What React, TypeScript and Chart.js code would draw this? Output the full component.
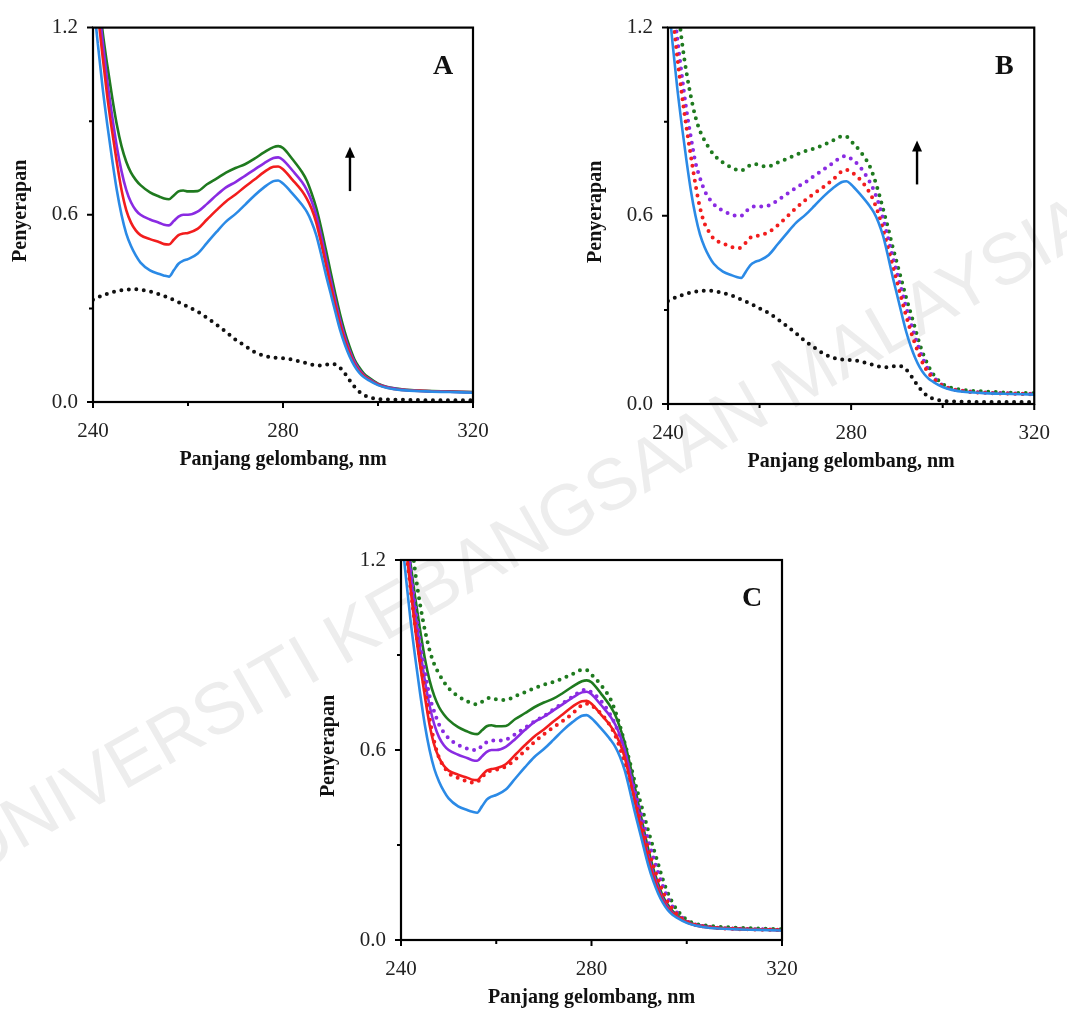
import React, { useEffect, useRef } from 'react';
import { Chart, registerables } from 'chart.js';

Chart.register(...registerables);

// Wavelength grid (nm)
const WL = [240, 241, 242, 243, 244, 245, 246, 247, 248, 249, 250, 252, 254, 255, 256, 257, 258, 259, 260, 262, 264, 266, 268, 270, 272, 274, 276, 278, 279, 280, 282, 284, 285, 286, 287, 288, 289, 290, 291, 292, 293, 294, 295, 296, 297, 298, 300, 302, 305, 310, 315, 320];

// Solid spectra
const BLUE_SOLID = [1.30, 1.15, 1.01, 0.89, 0.78, 0.68, 0.60, 0.54, 0.50, 0.47, 0.447, 0.422, 0.41, 0.405, 0.402, 0.422, 0.443, 0.453, 0.458, 0.475, 0.51, 0.545, 0.578, 0.603, 0.632, 0.662, 0.688, 0.708, 0.71, 0.70, 0.668, 0.632, 0.61, 0.578, 0.535, 0.475, 0.41, 0.35, 0.29, 0.232, 0.185, 0.147, 0.117, 0.095, 0.08, 0.07, 0.054, 0.045, 0.038, 0.034, 0.032, 0.030];
const RED_SOLID = [1.40, 1.25, 1.11, 0.98, 0.87, 0.77, 0.68, 0.615, 0.575, 0.55, 0.535, 0.522, 0.512, 0.506, 0.505, 0.52, 0.535, 0.54, 0.542, 0.555, 0.585, 0.615, 0.643, 0.665, 0.69, 0.713, 0.737, 0.754, 0.755, 0.746, 0.712, 0.676, 0.652, 0.62, 0.575, 0.512, 0.443, 0.375, 0.31, 0.25, 0.198, 0.157, 0.123, 0.10, 0.084, 0.073, 0.056, 0.046, 0.039, 0.035, 0.033, 0.031];
const PURPLE_SOLID = [1.45, 1.30, 1.16, 1.03, 0.92, 0.82, 0.74, 0.68, 0.64, 0.615, 0.60, 0.585, 0.574, 0.568, 0.566, 0.58, 0.594, 0.60, 0.60, 0.61, 0.635, 0.663, 0.688, 0.705, 0.725, 0.745, 0.765, 0.782, 0.784, 0.776, 0.742, 0.705, 0.68, 0.645, 0.598, 0.535, 0.465, 0.395, 0.327, 0.264, 0.21, 0.166, 0.13, 0.105, 0.087, 0.075, 0.057, 0.047, 0.04, 0.035, 0.033, 0.031];
const GREEN_SOLID = [1.48, 1.33, 1.19, 1.08, 0.98, 0.89, 0.82, 0.77, 0.735, 0.712, 0.695, 0.672, 0.658, 0.652, 0.65, 0.662, 0.675, 0.678, 0.675, 0.676, 0.698, 0.716, 0.735, 0.75, 0.762, 0.78, 0.80, 0.817, 0.82, 0.814, 0.778, 0.737, 0.71, 0.67, 0.622, 0.56, 0.49, 0.418, 0.348, 0.282, 0.225, 0.178, 0.138, 0.112, 0.092, 0.079, 0.059, 0.048, 0.041, 0.036, 0.034, 0.032];

// Dotted spectra
const RED_DOT = [1.40, 1.24, 1.11, 0.99, 0.885, 0.79, 0.70, 0.625, 0.575, 0.548, 0.527, 0.512, 0.50, 0.497, 0.499, 0.514, 0.53, 0.535, 0.538, 0.548, 0.57, 0.597, 0.625, 0.65, 0.672, 0.692, 0.715, 0.742, 0.746, 0.74, 0.715, 0.675, 0.645, 0.605, 0.555, 0.50, 0.445, 0.39, 0.335, 0.282, 0.233, 0.19, 0.152, 0.12, 0.097, 0.08, 0.058, 0.047, 0.04, 0.035, 0.033, 0.031];
const PURPLE_DOT = [1.45, 1.31, 1.17, 1.05, 0.94, 0.85, 0.77, 0.72, 0.68, 0.655, 0.637, 0.616, 0.604, 0.60, 0.60, 0.614, 0.625, 0.63, 0.63, 0.633, 0.65, 0.67, 0.69, 0.707, 0.728, 0.748, 0.768, 0.788, 0.79, 0.782, 0.755, 0.71, 0.68, 0.64, 0.59, 0.533, 0.475, 0.42, 0.365, 0.31, 0.26, 0.213, 0.17, 0.134, 0.106, 0.086, 0.06, 0.048, 0.041, 0.036, 0.034, 0.032];
const GREEN_DOT = [1.55, 1.42, 1.29, 1.16, 1.06, 0.98, 0.915, 0.87, 0.84, 0.815, 0.795, 0.77, 0.753, 0.747, 0.744, 0.752, 0.762, 0.765, 0.76, 0.758, 0.77, 0.782, 0.795, 0.806, 0.815, 0.826, 0.84, 0.853, 0.852, 0.838, 0.805, 0.76, 0.722, 0.675, 0.62, 0.565, 0.505, 0.45, 0.395, 0.34, 0.29, 0.24, 0.19, 0.15, 0.118, 0.094, 0.064, 0.051, 0.044, 0.039, 0.036, 0.034];
const BLACK_DOT = [0.328, 0.335, 0.342, 0.347, 0.352, 0.355, 0.358, 0.36, 0.361, 0.361, 0.36, 0.354, 0.345, 0.34, 0.333, 0.327, 0.32, 0.313, 0.305, 0.29, 0.27, 0.248, 0.225, 0.20, 0.18, 0.16, 0.148, 0.142, 0.141, 0.14, 0.136, 0.128, 0.124, 0.12, 0.118, 0.117, 0.119, 0.122, 0.12, 0.11, 0.092, 0.07, 0.05, 0.034, 0.023, 0.016, 0.01, 0.008, 0.007, 0.006, 0.006, 0.006];

// Axis ticks
const X_TICKS = [240, 260, 280, 300, 320];
const X_LABELED = [240, 280, 320];
const Y_TICKS = [0, 0.3, 0.6, 0.9, 1.2];
const Y_LABELED = [0, 0.6, 1.2];

const X_TITLE = 'Panjang gelombang, nm';
const Y_TITLE = 'Penyerapan';
const WATERMARK = 'UNIVERSITI KEBANGSAAN MALAYSIA';

// Arrows: [wavelength, fromAbs, toAbs]
const ARROW_A = [294.1, 0.676, 0.818];
const ARROW_B = [294.4, 0.70, 0.84];

const C_BLUE = '#2b8ae6';
const C_RED = '#f21d1d';
const C_PURPLE = '#8a2be2';
const C_GREEN = '#1f7a1f';
const C_BLACK = '#111111';

const SERIF = "'Times New Roman', 'Liberation Serif', serif";

type SeriesDef = { data: number[]; color: string; dotted: boolean };

const solid = (data: number[], color: string): SeriesDef => ({ data, color, dotted: false });
const dotted = (data: number[], color: string): SeriesDef => ({ data, color, dotted: true });

type PanelDef = {
  letter: string;
  left: number;
  top: number;
  width: number;
  height: number;
  pad: { left: number; top: number; right: number };
  yW: number;
  xH: number;
  series: SeriesDef[];
  arrow?: number[];
};

const PANELS: PanelDef[] = [
  {
    letter: 'A', left: 0, top: 0, width: 533, height: 490,
    pad: { left: 0, top: 22, right: 60 }, yW: 93, xH: 88,
    series: [solid(BLUE_SOLID, C_BLUE), solid(RED_SOLID, C_RED), solid(PURPLE_SOLID, C_PURPLE), solid(GREEN_SOLID, C_GREEN), dotted(BLACK_DOT, C_BLACK)],
    arrow: ARROW_A,
  },
  {
    letter: 'B', left: 533, top: 0, width: 534, height: 490,
    pad: { left: 42, top: 24, right: 18 }, yW: 93, xH: 86,
    series: [solid(BLUE_SOLID, C_BLUE), dotted(RED_DOT, C_RED), dotted(PURPLE_DOT, C_PURPLE), dotted(GREEN_DOT, C_GREEN), dotted(BLACK_DOT, C_BLACK)],
    arrow: ARROW_B,
  },
  {
    letter: 'C', left: 300, top: 530, width: 560, height: 479,
    pad: { left: 8, top: 30, right: 78 }, yW: 93, xH: 69,
    series: [solid(BLUE_SOLID, C_BLUE), dotted(RED_DOT, C_RED), solid(RED_SOLID, C_RED), dotted(PURPLE_DOT, C_PURPLE), solid(PURPLE_SOLID, C_PURPLE), dotted(GREEN_DOT, C_GREEN), solid(GREEN_SOLID, C_GREEN)],
  },
];

const near = (v: number, list: number[]) => list.some((t) => Math.abs(t - v) < 1e-6);

const decorPlugin = {
  id: 'decor',
  afterDraw(chart: any, _args: any, opts: any) {
    const { ctx, chartArea } = chart;
    const { left, right, top, bottom } = chartArea;
    const xs = chart.scales.x;
    const ys = chart.scales.y;
    ctx.save();
    ctx.strokeStyle = '#000';
    ctx.lineWidth = 2.2;
    ctx.strokeRect(left, top, right - left, bottom - top);
    // ticks
    ctx.lineWidth = 2;
    ctx.beginPath();
    X_TICKS.forEach((v) => {
      const px = xs.getPixelForValue(v);
      const len = near(v, X_LABELED) ? 6 : 4;
      ctx.moveTo(px, bottom);
      ctx.lineTo(px, bottom + len);
    });
    Y_TICKS.forEach((v) => {
      const py = ys.getPixelForValue(v);
      const len = near(v, Y_LABELED) ? 6 : 4;
      ctx.moveTo(left, py);
      ctx.lineTo(left - len, py);
    });
    ctx.stroke();
    // titles
    ctx.fillStyle = '#111';
    ctx.font = `bold 20px ${SERIF}`;
    ctx.textAlign = 'center';
    ctx.textBaseline = 'middle';
    ctx.fillText(X_TITLE, (left + right) / 2, bottom + 58);
    ctx.save();
    ctx.translate(left - 72, (top + bottom) / 2 - 4);
    ctx.rotate(-Math.PI / 2);
    ctx.fillText(Y_TITLE, 0, 0);
    ctx.restore();
    // letter
    ctx.font = `bold 28px ${SERIF}`;
    ctx.textBaseline = 'alphabetic';
    ctx.fillText(opts.letter, right - 30, top + 46);
    // arrow
    if (opts.arrow) {
      const [wx, y0, y1] = opts.arrow;
      const ax = xs.getPixelForValue(wx);
      const pb = ys.getPixelForValue(y0);
      const pt = ys.getPixelForValue(y1);
      ctx.strokeStyle = '#000';
      ctx.lineWidth = 2.4;
      ctx.beginPath();
      ctx.moveTo(ax, pb);
      ctx.lineTo(ax, pt + 8);
      ctx.stroke();
      ctx.fillStyle = '#000';
      ctx.beginPath();
      ctx.moveTo(ax, pt);
      ctx.lineTo(ax - 5, pt + 11);
      ctx.lineTo(ax + 5, pt + 11);
      ctx.closePath();
      ctx.fill();
    }
    ctx.restore();
  },
};

function PanelChart({ def }: { def: PanelDef }) {
  const ref = useRef<HTMLCanvasElement | null>(null);
  useEffect(() => {
    const canvas = ref.current;
    if (!canvas) return;
    const datasets = def.series.map((s) => ({
      data: WL.map((x, i) => ({ x, y: s.data[i] })),
      borderColor: s.color,
      backgroundColor: s.color,
      borderWidth: s.dotted ? 4 : 2.6,
      borderDash: s.dotted ? [0, 7.5] : [],
      borderCapStyle: s.dotted ? 'round' : 'butt',
      borderJoinStyle: 'round',
      pointRadius: 0,
      cubicInterpolationMode: 'monotone',
      fill: false,
    }));
    const chart = new Chart(canvas, {
      type: 'line',
      data: { datasets } as any,
      options: {
        responsive: false,
        animation: false,
        events: [],
        layout: { padding: { left: def.pad.left, top: def.pad.top, right: def.pad.right, bottom: 0 } },
        plugins: {
          legend: { display: false },
          tooltip: { enabled: false },
          decor: { letter: def.letter, arrow: def.arrow },
        } as any,
        scales: {
          x: {
            type: 'linear',
            min: 240,
            max: 320,
            grid: { display: false, drawTicks: false },
            border: { display: false },
            ticks: {
              stepSize: 20,
              autoSkip: false,
              maxRotation: 0,
              padding: 17,
              color: '#222',
              font: { family: SERIF, size: 21 },
              callback: (v: any) => (near(Number(v), X_LABELED) ? String(v) : ''),
            },
            afterFit: (scale: any) => { scale.height = def.xH; },
          },
          y: {
            type: 'linear',
            min: 0,
            max: 1.2,
            grid: { display: false, drawTicks: false },
            border: { display: false },
            ticks: {
              stepSize: 0.3,
              autoSkip: false,
              padding: 15,
              color: '#222',
              font: { family: SERIF, size: 21 },
              callback: (v: any) => (near(Number(v), Y_LABELED) ? Number(v).toFixed(1) : ''),
            },
            afterFit: (scale: any) => { scale.width = def.yW; },
          },
        },
      } as any,
      plugins: [decorPlugin],
    });
    return () => chart.destroy();
  }, [def]);
  return (
    <canvas
      ref={ref}
      width={def.width}
      height={def.height}
      style={{ position: 'absolute', left: def.left, top: def.top, width: def.width, height: def.height }}
    />
  );
}

function Watermark() {
  const ref = useRef<HTMLCanvasElement | null>(null);
  useEffect(() => {
    const c = ref.current;
    if (!c) return;
    const ctx = c.getContext('2d');
    if (!ctx) return;
    ctx.clearRect(0, 0, c.width, c.height);
    ctx.save();
    ctx.translate(-36, 859);
    ctx.rotate((-29.7 * Math.PI) / 180);
    ctx.font = "72px 'Liberation Sans', Arial, sans-serif";
    ctx.fillStyle = '#ededed';
    ctx.textBaseline = 'middle';
    ctx.textAlign = 'left';
    ctx.fillText(WATERMARK, 0, 0);
    ctx.restore();
  }, []);
  return <canvas ref={ref} width={1067} height={1009} style={{ position: 'absolute', left: 0, top: 0 }} />;
}

export default function App() {
  return (
    <div style={{ position: 'absolute', left: 0, top: 0, width: 1067, height: 1009, overflow: 'hidden', background: '#fff' }}>
      <Watermark />
      {PANELS.map((p) => (
        <PanelChart key={p.letter} def={p} />
      ))}
    </div>
  );
}
